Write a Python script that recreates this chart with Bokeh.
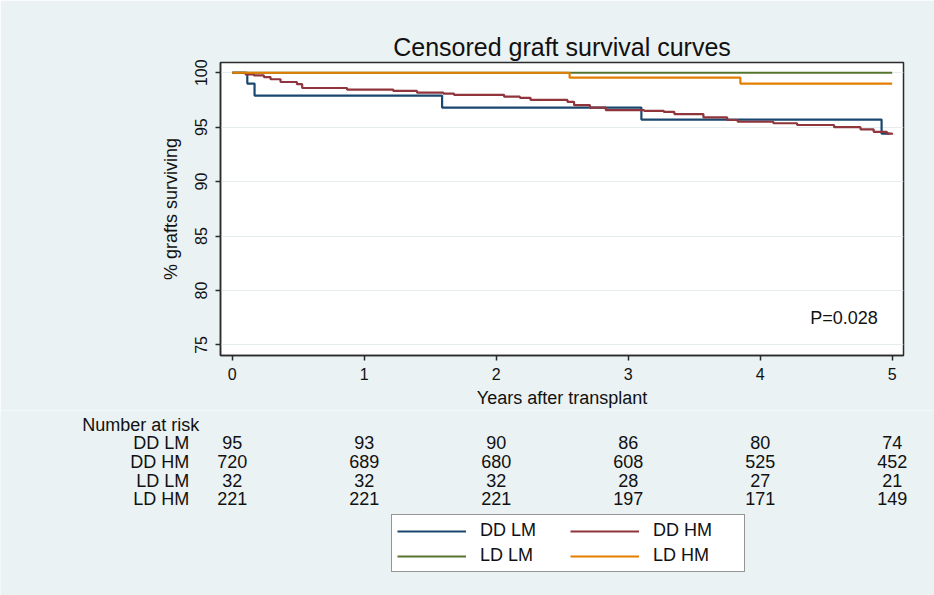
from bokeh.plotting import figure
from bokeh.layouts import column
from bokeh.models import Label, Legend, LegendItem, Range1d
from bokeh.core.properties import value
from bokeh.embed import file_html
from bokeh.resources import INLINE

# ---------------- data ----------------
years = [0, 1, 2, 3, 4, 5]
y_ticks = [75, 80, 85, 90, 95, 100]
groups = ["DD LM", "DD HM", "LD LM", "LD HM"]

# Kaplan-Meier step curves (event times in years, survival % after each step)
dd_lm_t = [0, 0.114, 0.169, 1.59, 3.10, 4.92, 4.98]
dd_lm_s = [100, 99.0, 97.9, 96.8, 95.7, 94.4, 94.4]

dd_hm_t = [0, 0.10, 0.164, 0.24, 0.29, 0.366, 0.49, 0.53, 0.87, 1.22, 1.40, 1.60,
           1.68, 2.06, 2.18, 2.26, 2.54, 2.59, 2.71, 2.83, 3.12, 3.27, 3.35, 3.57,
           3.75, 3.83, 4.10, 4.28, 4.56, 4.76, 4.86, 4.96, 5.0]
dd_hm_s = [100, 99.85, 99.75, 99.6, 99.4, 99.15, 98.95, 98.6, 98.45, 98.33, 98.18, 98.09,
           97.97, 97.8, 97.7, 97.5, 97.33, 97.03, 96.8, 96.57, 96.5, 96.4, 96.2, 95.9,
           95.66, 95.5, 95.36, 95.2, 95.0, 94.8, 94.57, 94.4, 94.3]

ld_lm_t = [0, 5.0]
ld_lm_s = [100, 100]

ld_hm_t = [0, 2.556, 3.85, 5.0]
ld_hm_s = [100, 99.55, 99.0, 99.0]

# number at risk
risk_dd_lm = [95, 93, 90, 86, 80, 74]
risk_dd_hm = [720, 689, 680, 608, 525, 452]
risk_ld_lm = [32, 32, 32, 28, 27, 21]
risk_ld_hm = [221, 221, 221, 197, 171, 149]

p_value_text = "P=0.028"

# ---------------- style ----------------
BG = "#EAF2F3"
FONT = "Liberation Sans"
DARK = "#2b2b2b"
TXT = "#111111"
colors = ["#1A476F", "#90353B", "#55752F", "#E37E00"]

W = 934
TOP_H = 410
BOT_H = 595 - TOP_H
BL, BR = 220, 31          # left / right borders around the plot frame

x0, x1 = -0.089, 5.086
y0, y1 = 74.03, 100.94

p = figure(width=W, height=TOP_H, output_backend="svg", toolbar_location=None,
           x_range=Range1d(x0, x1), y_range=Range1d(y0, y1),
           min_border_left=BL, min_border_right=BR, min_border_top=62,
           min_border_bottom=TOP_H - 358,
           background_fill_color="white", border_fill_color=BG,
           outline_line_color=DARK, outline_line_width=1.5)
p.frame_align = False

p.title.text = "Censored graft survival curves"
p.title.align = "center"
p.title.text_font = FONT
p.title.text_font_size = "25px"
p.title.text_font_style = "normal"
p.title.text_color = TXT
p.title.standoff = 3

for ax in (p.xaxis[0], p.yaxis[0]):
    ax.axis_line_color = DARK
    ax.axis_line_width = 1.5
    ax.major_tick_line_color = DARK
    ax.major_tick_line_width = 1.5
    ax.major_tick_out = 5
    ax.major_tick_in = 0
    ax.minor_tick_line_color = None
    ax.major_label_text_font = FONT
    ax.major_label_text_font_size = "16px"
    ax.major_label_text_color = TXT
    ax.axis_label_text_font = FONT
    ax.axis_label_text_font_size = "18px"
    ax.axis_label_text_font_style = "normal"
    ax.axis_label_text_color = TXT

p.xaxis.ticker = years
p.yaxis.ticker = y_ticks
p.xaxis.axis_label = "Years after transplant"
p.yaxis.axis_label = "% grafts surviving"
p.yaxis.major_label_orientation = "vertical"
p.xaxis.major_label_standoff = 7
p.xaxis.axis_label_standoff = 5
p.yaxis.major_label_standoff = 8
p.yaxis.axis_label_standoff = 12

p.xgrid.visible = False
p.ygrid.grid_line_color = "#E4ECEE"
p.ygrid.grid_line_width = 1

curves = [(dd_lm_t, dd_lm_s), (dd_hm_t, dd_hm_s), (ld_lm_t, ld_lm_s), (ld_hm_t, ld_hm_s)]
for (t, s), c in zip(curves, colors):
    p.step(t, s, mode="after", line_color=c, line_width=2.2)

p.add_layout(Label(x=4.38, y=77.48, text=p_value_text, text_font=FONT,
                   text_font_size="18px", text_baseline="middle", text_align="left",
                   text_color=TXT))

# ---------------- lower panel: number at risk + legend ----------------
scale = (W - BL - BR) / (x1 - x0)          # pixels per year, same as upper frame
bx0 = x0 - BL / scale
bx1 = x1 + BR / scale

q = figure(width=W, height=BOT_H, output_backend="svg", toolbar_location=None,
           x_range=Range1d(bx0, bx1), y_range=Range1d(BOT_H, 0),
           min_border=0, min_border_left=0, min_border_right=0,
           min_border_top=0, min_border_bottom=0,
           background_fill_color=BG, border_fill_color=BG, outline_line_color=None)
q.frame_align = False
q.axis.visible = False
q.grid.visible = False

txt_kw = dict(text_font=value(FONT), text_font_size="18px", text_color=TXT,
              text_baseline="middle")

q.text(x=[0], y=[14], text=["Number at risk"], x_offset=-150, text_align="left", **txt_kw)

risk_rows = [risk_dd_lm, risk_dd_hm, risk_ld_lm, risk_ld_hm]
row_y = [32, 51, 70, 88]
for name, row, ry in zip(groups, risk_rows, row_y):
    q.text(x=[0], y=[ry], text=[name], x_offset=-43, text_align="right", **txt_kw)
    q.text(x=years, y=[ry] * len(years), text=[str(n) for n in row],
           text_align="center", **txt_kw)

dummies = [q.line([0, 0], [-10, -10], line_color=c, line_width=2) for c in colors]
legend = Legend(items=[LegendItem(label=g, renderers=[r]) for g, r in zip(groups, dummies)],
                location=(391, BOT_H - 162), orientation="horizontal", nrows=2,
                background_fill_color="white", background_fill_alpha=1.0,
                border_line_color=DARK, border_line_width=1.5,
                label_text_font=FONT, label_text_font_size="18px",
                label_text_color=TXT,
                glyph_width=69, glyph_height=18, label_standoff=14, label_width=86,
                spacing=4, padding=5, margin=0)
q.add_layout(legend)

layout = column(p, q, spacing=0)
open("out.html", "w").write(file_html(layout, INLINE))
